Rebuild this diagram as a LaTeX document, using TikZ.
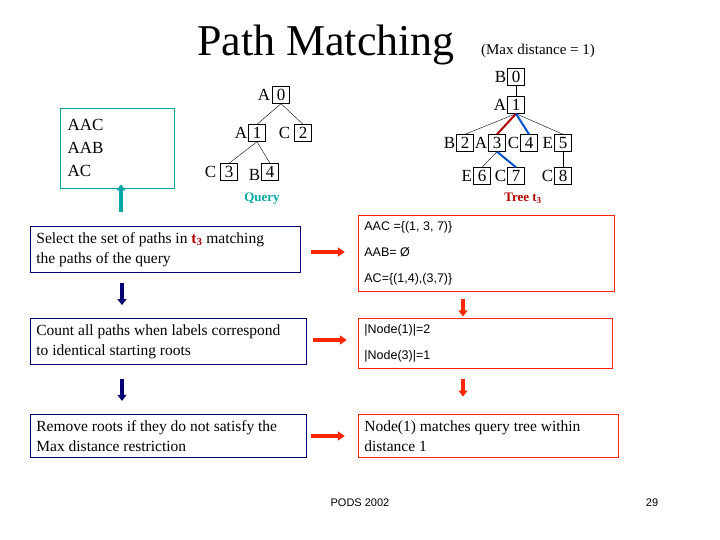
\documentclass[tikz,border=0pt]{standalone}
\usepackage{fontspec}
\setmainfont{Liberation Serif}
\newfontfamily\arialfont{Liberation Sans}
\usetikzlibrary{positioning, arrows.meta}
\colorlet{query_teal}{teal!70!cyan}
\colorlet{box_blue}{blue!45!black}
\colorlet{box_red}{red!70!orange}
\colorlet{path_red}{red!70!black}
\colorlet{path_blue}{blue!60!cyan!80!black}

\begin{document}
\begin{tikzpicture}[x=1pt, y=-1pt,
                            num/.style={rectangle, draw, inner sep=1.5pt, minimum size=17pt, font=\fontsize{17}{17}\selectfont},
                            lbl/.style={font=\fontsize{17}{17}\selectfont, inner sep=1pt},
                            step/.style={rectangle, draw=box_blue, thick, text width=#1, align=flush left, inner sep=6pt, font=\fontsize{15.5}{20}\selectfont},
                            result/.style={rectangle, draw=box_red, thick, text width=#1, align=flush left, inner sep=6pt},
                            downarrow/.style={-{Triangle[length=6pt,width=9pt]}, line width=3.5pt},
                            rightarrow/.style={-{Triangle[length=7pt,width=9pt]}, line width=3.5pt, draw=box_red},
                            hi/.style={line width=2pt}
                        ]
                            \useasboundingbox (0,0) rectangle (720,540);
                            % title
                            \node (title) at (326,45) {\fontsize{44}{44}\selectfont Path Matching};
                            \node (maxdist) at (538,51) {\fontsize{15}{15}\selectfont (Max distance = 1)};

                            % query paths
                            \node[draw=query_teal, thick, minimum width=114pt, minimum height=80pt] (paths) at (117,148) {};
                            \node[align=left, font=\fontsize{17}{23}\selectfont, anchor=west] (pathtext) at (64,148) {AAC\\AAB\\AC};
                            \coordinate (arrowfoot) at (121,212);
                            \draw[-{Triangle[length=6pt,width=9pt]}, line width=3.5pt, query_teal] (arrowfoot) -- ([yshift=4pt]paths.south -| arrowfoot);

                            % query tree
                            \node[num] (q0) at (281,95) {0};
                            \node[num] (q1) at (257,133) {1};
                            \node[num] (q2) at (303,133) {2};
                            \node[num] (q3) at (229,172) {3};
                            \node[num] (q4) at (270,172) {4};
                            \node[lbl, left=1pt of q0] {A};
                            \node[lbl, left=0pt of q1] {A};
                            \node[lbl, left=3pt of q2] {C};
                            \node[lbl, left=3pt of q3] {C};
                            \node[lbl, left=0pt of q4, yshift=-3pt] {B};
                            \draw (q0.south) -- (q1.north);
                            \draw (q0.south) -- (q2.north);
                            \draw (q1.south) -- (q3.north);
                            \draw (q1.south) -- (q4.north);
                            \node[query_teal, font=\bfseries\fontsize{13}{13}\selectfont] (query) at (262,199) {Query};

                            % tree t3
                            \node[num] (t0) at (516,77) {0};
                            \node[num] (t1) at (516,105) {1};
                            \node[num] (t2) at (465,143) {2};
                            \node[num] (t3) at (497,143) {3};
                            \node[num] (t4) at (529,143) {4};
                            \node[num] (t5) at (563,143) {5};
                            \node[num] (t6) at (482,176) {6};
                            \node[num] (t7) at (516,176) {7};
                            \node[num] (t8) at (563,176) {8};
                            \foreach \n/\l in {0/B,1/A,2/B,3/A,4/C,5/E,6/E,7/C,8/C} {
                                \node[lbl, left=0pt of t\n] {\l};
                            }
                            \draw (t0) -- (t1);
                            \draw (t1.south) -- (t2.north);
                            \draw (t1.south) -- (t5.north);
                            \draw (t3.south) -- (t6.north);
                            \draw (t5) -- (t8);
                            \draw[hi, path_red] (t1.south) -- (t3.north);
                            \draw[hi, path_blue] (t1.south) -- (t4.north);
                            \draw[hi, path_blue] (t3.south) -- (t7.north);
                            \node[path_red, font=\bfseries\fontsize{13}{13}\selectfont] (tree) at (523,198) {Tree t$_\mathbf{3}$};

                            % steps
                            \node[step=258pt, anchor=north west] (select) at (30,226) {Select the set of paths in {\color{path_red}\bfseries t$_\mathbf{3}$} matching\\the paths of the query};
                            \node[step=264pt, anchor=north west] (count) at (30,318) {Count all paths when labels correspond\\to identical starting roots};
                            \node[step=264pt, anchor=north west] (remove) at (30,414) {Remove roots if they do not satisfy the\\Max distance restriction};

                            % results
                            \node[result=244pt, anchor=north west, font=\arialfont\fontsize{12.5}{26}\selectfont] (sets) at (358,215) {AAC =\{(1, 3, 7)\}\\AAB= \O\\AC=\{(1,4),(3,7)\}};
                            \node[result=242pt, anchor=north west, font=\arialfont\fontsize{12.5}{26}\selectfont] (counts) at (358,318) {|Node(1)|=2\\|Node(3)|=1};
                            \node[result=248pt, anchor=north west, font=\fontsize{15.5}{20}\selectfont] (match) at (358,414) {Node(1) matches query tree within\\distance 1};

                            % connections
                            \draw[downarrow, box_blue] ([yshift=-10pt]select.south -| 122,0) -- ++(0,22);
                            \draw[downarrow, box_blue] ([yshift=-14pt]count.south -| 122,0) -- ++(0,22);
                            \draw[downarrow, box_red] ([yshift=-8pt]sets.south -| 463,0) -- ++(0,17);
                            \draw[downarrow, box_red] ([yshift=-10pt]counts.south -| 463,0) -- ++(0,18);
                            \draw[rightarrow] ([xshift=10pt]select.east |- 0,252) -- ++(34,0);
                            \draw[rightarrow] ([xshift=6pt]count.east |- 0,340) -- ++(34,0);
                            \draw[rightarrow] ([xshift=4pt]remove.east |- 0,436) -- ++(34,0);

                            % footer
                            \node[font=\arialfont\fontsize{11}{11}\selectfont] (venue) at (360,503) {PODS 2002};
                            \node[font=\arialfont\fontsize{11}{11}\selectfont] (page) at (652,503) {29};
                        \end{tikzpicture}
\end{document}
